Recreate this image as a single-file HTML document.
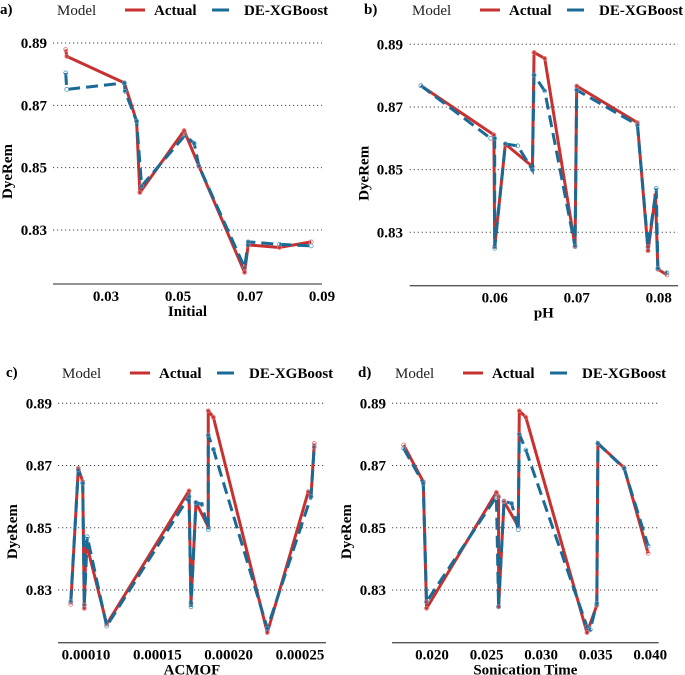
<!DOCTYPE html>
<html><head><meta charset="utf-8"><style>
body{margin:0;background:#fff;width:685px;height:675px;overflow:hidden}
svg{display:block;font-family:"Liberation Serif",serif}
</style></head><body>
<svg id="chart" width="685" height="675" viewBox="0 0 685 675" xmlns="http://www.w3.org/2000/svg"></svg>
<script>
const yTicks=[0.83,0.85,0.87,0.89];
const xTicksA=[0.03,0.05,0.07,0.09];
const xLabelsA=["0.03","0.05","0.07","0.09"];
const xTicksB=[0.06,0.07,0.08];
const xLabelsB=["0.06","0.07","0.08"];
const xTicksC=[0.0001,0.00015,0.0002,0.00025];
const xLabelsC=["0.00010","0.00015","0.00020","0.00025"];
const xTicksD=[0.02,0.025,0.03,0.035,0.04];
const xLabelsD=["0.020","0.025","0.030","0.035","0.040"];

const actualXA=[0.0188,0.0191,0.0351,0.0385,0.0394,0.0517,0.0558,0.0685,0.0695,0.0782,0.0870];
const actualYA=[0.8879,0.8857,0.8772,0.8649,0.8420,0.8619,0.8505,0.8164,0.8252,0.8244,0.8262];
const predXA=[0.0188,0.0191,0.0351,0.0353,0.0385,0.0399,0.0519,0.0545,0.0558,0.0685,0.0695,0.0782,0.0870];
const predYA=[0.8804,0.8751,0.8772,0.8745,0.8649,0.8441,0.8603,0.8578,0.8505,0.8180,0.8262,0.8254,0.8249];

const actualXB=[0.0510,0.0599,0.0600,0.0613,0.0646,0.0648,0.0661,0.0698,0.0700,0.0774,0.0787,0.0796,0.0799,0.0810];
const actualYB=[0.8768,0.8611,0.8254,0.8582,0.8510,0.8874,0.8855,0.8256,0.8767,0.8650,0.8241,0.8419,0.8182,0.8164];
const predXB=[0.0510,0.0595,0.0600,0.0600,0.0613,0.0628,0.0646,0.0648,0.0661,0.0698,0.0700,0.0774,0.0787,0.0797,0.0799,0.0810];
const predYB=[0.8768,0.8600,0.8600,0.8249,0.8582,0.8576,0.8499,0.8802,0.8751,0.8254,0.8754,0.8643,0.8254,0.8440,0.8185,0.8171];

const actualXC=[0.0000893,0.0000946,0.0000977,0.0000988,0.0001,0.0001145,0.0001722,0.0001736,0.0001771,0.0001857,0.0001857,0.0001893,0.0002271,0.0002558,0.0002577,0.00026];
const actualYC=[0.8254,0.8691,0.8648,0.8241,0.8455,0.8190,0.8619,0.8257,0.8581,0.8503,0.8876,0.8855,0.8163,0.8616,0.8600,0.8771];
const predXC=[0.0000893,0.0000946,0.0000977,0.0000988,0.0001009,0.0001145,0.0001722,0.0001736,0.0001771,0.0001811,0.0001857,0.0001857,0.0001893,0.0002271,0.0002577,0.00026];
const predYC=[0.8262,0.8686,0.8643,0.8252,0.8471,0.8184,0.8600,0.8246,0.8581,0.8576,0.8494,0.8798,0.8752,0.8177,0.8600,0.8760];

const actualXD=[0.0174,0.0192,0.0195,0.0259,0.0261,0.0261,0.0266,0.0279,0.0280,0.0286,0.0342,0.0351,0.0352,0.0376,0.0398];
const actualYD=[0.8766,0.8648,0.8241,0.8614,0.8600,0.8246,0.8584,0.8505,0.8876,0.8855,0.8163,0.8251,0.8771,0.8693,0.8418];
const predXD=[0.0174,0.0192,0.0195,0.0259,0.0261,0.0266,0.0273,0.0279,0.0280,0.0286,0.0342,0.0345,0.0351,0.0352,0.0376,0.0398];
const predYD=[0.8755,0.8643,0.8262,0.8600,0.8246,0.8586,0.8578,0.8494,0.8801,0.8750,0.8182,0.8173,0.8257,0.8771,0.8691,0.8442];

const NS="http://www.w3.org/2000/svg";
const svg=document.getElementById('chart');
function el(tag,attrs,parent,text){const e=document.createElementNS(NS,tag);for(const k in attrs)e.setAttribute(k,attrs[k]);if(text!==undefined)e.textContent=text;(parent||svg).appendChild(e);return e;}

const panels=[
 {id:'a',label:'a)',xt:xTicksA,xl:xLabelsA,ax:actualXA,ay:actualYA,px:predXA,py:predYA,x0v:0.03,x0p:106,x1v:0.09,x1p:322,ytop:43,ybot:230,axisY:284,left:53,right:322,ox:0,oy:0,title:'Initial',yLab:47,lab:{x:0,y:14},leg:57},
 {id:'b',label:'b)',xt:xTicksB,xl:xLabelsB,ax:actualXB,ay:actualYB,px:predXB,py:predYB,x0v:0.06,x0p:494.7,x1v:0.08,x1p:658.7,ytop:44.3,ybot:232.3,axisY:285.7,left:409.7,right:678,title:'pH',yLab:403,lab:{x:364,y:14},leg:412},
 {id:'c',label:'c)',xt:xTicksC,xl:xLabelsC,ax:actualXC,ay:actualYC,px:predXC,py:predYC,x0v:0.0001,x0p:86,x1v:0.00025,x1p:300,ytop:403.3,ybot:590,axisY:642.7,left:58,right:326,title:'ACMOF',yLab:52,lab:{x:6,y:377},leg:62},
 {id:'d',label:'d)',xt:xTicksD,xl:xLabelsD,ax:actualXD,ay:actualYD,px:predXD,py:predYD,x0v:0.02,x0p:432,x1v:0.04,x1p:650.3,ytop:403.3,ybot:590,axisY:642.7,left:392,right:658.7,title:'Sonication Time',yLab:386,lab:{x:358,y:377},leg:395}
];

panels.forEach(p=>{
 const g=el('g',{});
 
 
 const sx=v=>p.x0p+(v-p.x0v)*(p.x1p-p.x0p)/(p.x1v-p.x0v);
 const sy=v=>p.ybot+(v-0.83)*(p.ytop-p.ybot)/(0.89-0.83);
 const pl=el('text',{x:p.lab.x,y:p.lab.y,'font-size':15,'font-weight':'bold'},g,p.label);
 
 // legend
 const lg=el('g',{},g);
 const ly=p.lab.y;
 el('text',{x:p.leg,y:ly+1,'font-size':15,fill:'#222'},lg,'Model');
 const la=el('line',{x1:p.leg+68,x2:p.leg+88,y1:ly-4,y2:ly-4,stroke:'#c8312f','stroke-width':3},lg);
 
 el('text',{x:p.leg+97,y:ly+1,'font-size':15,'font-weight':'bold'},lg,'Actual');
 const lb=el('line',{x1:p.leg+155,x2:p.leg+172,y1:ly-4,y2:ly-4,stroke:'#1a6a96','stroke-width':3},lg);
 
 el('text',{x:p.leg+187,y:ly+1,'font-size':15,'font-weight':'bold'},lg,'DE-XGBoost');
 // grid + y ticks
 yTicks.forEach(t=>{
  const gl=el('line',{x1:p.left,x2:p.right,y1:sy(t),y2:sy(t),stroke:'#444','stroke-width':1,'stroke-dasharray':'1.2,2.8'},g);
  
  const tl=el('text',{x:p.yLab,y:sy(t)+5,'font-size':15,'font-weight':'bold','text-anchor':'end'},g,t.toFixed(2));
  
 });
 const yt=el('text',{transform:`translate(${p.left-41},${(p.ytop+p.ybot)/2+35}) rotate(-90)`,'font-size':15,'font-weight':'bold','text-anchor':'middle'},g,'DyeRem');
 
 // x axis
 const xa=el('line',{x1:p.left,x2:p.right,y1:p.axisY,y2:p.axisY,stroke:'#555','stroke-width':1.3},g);
 
 p.xt.forEach((t,i)=>{
  const tl=el('text',{x:sx(t),y:p.axisY+17,'font-size':15,'font-weight':'bold','text-anchor':'middle'},g,p.xl[i]);
  
 });
 const xt=el('text',{x:(p.left+p.right)/2,y:p.axisY+32,'font-size':15,'font-weight':'bold','text-anchor':'middle'},g,p.title);
 
 // series
 const pa=el('polyline',{points:p.ax.map((x,i)=>sx(x)+','+sy(p.ay[i])).join(' '),fill:'none',stroke:'#c8312f','stroke-width':3,'stroke-linejoin':'round'},g);
 
 p.ax.forEach((x,i)=>{const c=el('circle',{cx:sx(x),cy:sy(p.ay[i]),r:2,fill:'none',stroke:'#e07a78','stroke-width':0.8},g);
  });
 const pp=el('polyline',{points:p.px.map((x,i)=>sx(x)+','+sy(p.py[i])).join(' '),fill:'none',stroke:'#1a6a96','stroke-width':3,'stroke-dasharray':'12,6'},g);
 
 p.px.forEach((x,i)=>{const c=el('circle',{cx:sx(x),cy:sy(p.py[i]),r:2,fill:'none',stroke:'#5a9cc4','stroke-width':0.8},g);
  });
});
</script>
</body></html>
